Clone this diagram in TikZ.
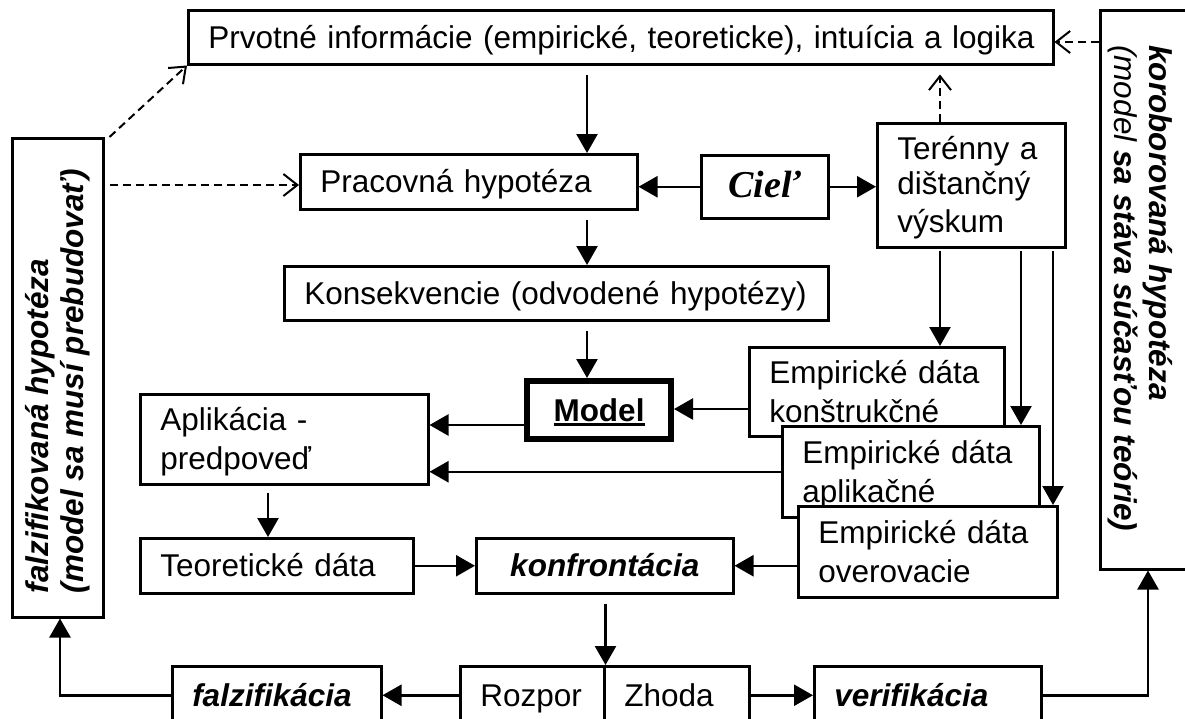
\documentclass[tikz,border=0pt]{standalone}
\usepackage{fontspec}
\setmainfont{Liberation Sans}
\newfontfamily\cielfont{Liberation Serif}
\usepackage{graphicx}
\usetikzlibrary{arrows.meta}
\hyphenpenalty=10000
\exhyphenpenalty=10000

\newcommand{\txtsz}{\fontsize{31.5}{35}\selectfont}
\newcommand{\cielsz}{\fontsize{38}{42}\selectfont}
% invisible rule giving every line the same height and depth
\newcommand{\bstrut}{\rule[-8pt]{0pt}{38pt}}
% underline with a rule as heavy as the strokes of the bold letters
\newcommand{\thickul}[1]{\setbox0\hbox{#1}\rlap{\rule[-5pt]{\wd0}{2.6pt}}\box0}

\tikzset{
  box/.style={draw, line width=2.5pt, fill=white, inner xsep=20pt, inner ysep=0pt,
              anchor=north west, align=left, font=\txtsz,
              execute at begin node=\bstrut, execute at end node=\bstrut},
  vbox/.style={box, inner sep=0pt, align=center,
               execute at begin node={}, execute at end node={}},
  bi/.style={font=\txtsz\bfseries\itshape},
  arr/.style={line width=2.5pt, -{Triangle[length=19pt,width=21pt]}},
  darr/.style={line width=2pt, dash pattern=on 8pt off 5pt,
               -{Straight Barb[length=14pt,width=22pt]}},
}

\begin{document}
\begin{tikzpicture}[x=1pt,y=-1pt]
\useasboundingbox (0,0) rectangle (1185,718);
\clip (0,0) rectangle (1185,718);

% columns and rows used by the connectors
\coordinate (colA) at (587,0);
\coordinate (colB) at (268,0);
\coordinate (colC) at (940,0);
\coordinate (colD) at (1021,0);
\coordinate (colE) at (1053,0);
\coordinate (colF) at (60,0);
\coordinate (colG) at (1148,0);
\coordinate (rowA) at (0,185);
\coordinate (rowB) at (0,42);
\coordinate (rowC) at (0,425);
\coordinate (rowD) at (0,409);

% boxes
\node[box, text width=825pt, minimum height=54pt] (top) at (187,9)
  {\mbox{Prvotné informácie (empirické, teoreticke), intuícia a logika}};

\node[vbox, minimum width=91pt, minimum height=479pt] (lbox) at (11,137)
  {\rotatebox{90}{\parbox{439pt}{\raggedright\bfseries\itshape
   falzifikovaná hypotéza\\(model sa musí prebudovať)}}};

\node[vbox, minimum width=91pt, minimum height=559pt] (rbox) at (1099,9)
  {\rotatebox{-90}{\parbox{519pt}{\raggedright\bfseries\itshape
   koroborovaná hypotéza\\{\mdseries(model} sa stáva súčasťou teórie)}}\kern10pt};

\node[box, text width=297pt, minimum height=55pt] (prac) at (299,153) {Pracovná hypotéza};
\node[box, minimum width=127pt, minimum height=63pt, inner xsep=0pt, align=center,
      font=\cielsz\cielfont\bfseries\itshape] (ciel) at (700,154) {Cieľ};
\node[box, text width=148pt, minimum height=124pt] (teren) at (876,122)
  {Terénny a\\dištančný\\výskum};
\node[box, text width=504pt, minimum height=54pt] (kons) at (283,265)
  {\mbox{Konsekvencie (odvodené hypotézy)}};
\node[box, line width=6pt, minimum width=144pt, minimum height=58pt, inner xsep=0pt,
      align=center, font=\txtsz\bfseries] (model) at (524,378) {\thickul{Model}};
\node[box, text width=248pt, minimum height=90pt] (aplik) at (139,393)
  {Aplikácia -\\predpoveď};

\node[box, text width=215pt, minimum height=89pt] (emp1) at (748,346)
  {Empirické dáta\\konštrukčné};
\node[box, text width=217pt, minimum height=91pt] (emp2) at (781,425)
  {Empirické dáta\\aplikačné};
\node[box, text width=219pt, minimum height=91pt] (emp3) at (797,505)
  {Empirické dáta\\overovacie};

\node[box, text width=233pt, minimum height=55pt] (teor) at (139,537) {Teoretické dáta};
\node[box, bi, text width=217pt, minimum height=55pt, align=center] (konf) at (475,537) {konfrontácia};

\node[box, text width=104pt, minimum height=58pt] (rozp) at (459,665) {Rozpor};
\node[box, text width=105pt, minimum height=58pt] (zhoda) at (603,665) {Zhoda};
\node[box, bi, text width=169pt, minimum height=58pt] (falz) at (171,665) {falzifikácia};
\node[box, bi, text width=187pt, minimum height=58pt] (verif) at (813,665) {verifikácia};

% solid connectors
\draw[arr, shorten <=9pt] (top.south -| colA) -- (prac.north -| colA);
\draw[arr, shorten <=9pt] (prac.south -| colA) -- (kons.north -| colA);
\draw[arr, shorten <=9pt] (kons.south -| colA) -- (model.north -| colA);
\draw[arr] (ciel.west) -- (prac.east |- ciel.west);
\draw[arr] (ciel.east) -- (teren.west |- ciel.east);
\draw[arr, shorten <=2pt] (teren.south -| colC) -- (emp1.north -| colC);
\draw[arr, shorten <=2pt] (teren.south -| colD) -- (emp2.north -| colD);
\draw[arr, shorten <=2pt] (teren.south -| colE) -- (emp3.north -| colE);
\draw[arr] (emp1.west |- rowD) -- (model.east |- rowD);
\draw[arr] (model.west |- rowC) -- (aplik.east |- rowC);
\draw[arr] (emp2.west) -- (aplik.east |- emp2.west);
\draw[arr, shorten <=7pt] (aplik.south -| colB) -- (teor.north -| colB);
\draw[arr] (teor.east) -- (konf.west);
\draw[arr] (emp3.west |- konf.east) -- (konf.east);
\draw[arr, shorten <=9pt] (konf.south -| rozp.north east) -- (rozp.north east);
\draw[arr] (rozp.west) -- (falz.east);
\draw[arr] (zhoda.east) -- (verif.west);
\draw[arr] (falz.west) -| (colF |- lbox.south);
\draw[arr] (verif.east) -| (colG |- rbox.south);

% dashed feedback connectors
\coordinate (lboxr) at ([xshift=5pt]lbox.north east);
\draw[darr, shorten >=9pt] (teren.north -| colC) -- (top.south -| colC);
\draw[darr] (rbox.west |- rowB) -- (top.east |- rowB);
\draw[darr] (lboxr) -- (top.south west);
\draw[darr] (lboxr |- rowA) -- (prac.west |- rowA);
\end{tikzpicture}
\end{document}
